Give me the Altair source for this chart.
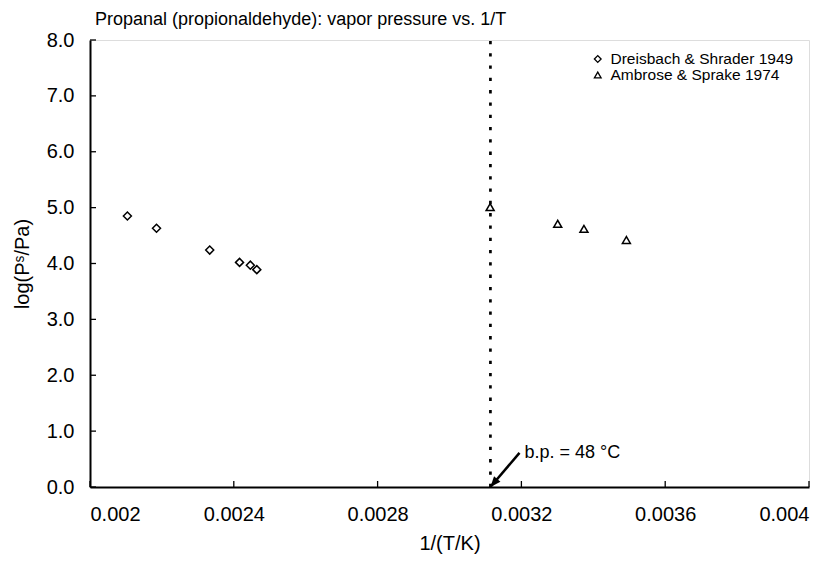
import altair as alt
import pandas as pd

# ---- data ----
series = ["Dreisbach & Shrader 1949", "Ambrose & Sprake 1974"]
ds_x = [0.002104, 0.002185, 0.002333, 0.002416, 0.002446, 0.002464]
ds_y = [4.85, 4.63, 4.24, 4.02, 3.97, 3.89]
as_x = [0.003113, 0.003301, 0.003374, 0.003492]
as_y = [5.01, 4.71, 4.62, 4.42]
bp_x = [1 / 321.15]          # boiling point 48 °C
bp_label = ["b.p. = 48 °C"]
arrow_start_x = [0.0031947]
arrow_start_y = [0.61]
x_ticks = [0.002, 0.0024, 0.0028, 0.0032, 0.0036, 0.004]
y_ticks = [0, 1, 2, 3, 4, 5, 6, 7, 8]
title_text = ["Propanal (propionaldehyde): vapor pressure vs. 1/T"]

FONT = "Liberation Sans"
W, H = 719, 447

df = pd.DataFrame({
    "x": ds_x + as_x,
    "y": ds_y + as_y,
    "series": [series[0]] * len(ds_x) + [series[1]] * len(as_x),
})

xs = alt.Scale(domain=[0.002, 0.004], nice=False, zero=False)
ys = alt.Scale(domain=[0, 8], nice=False, zero=False)

x_axis = alt.Axis(values=x_ticks, labelExpr="format(datum.value, '.4~f')", ticks=False, grid=False,
                  labelFontSize=20, labelPadding=17, title="1/(T/K)", titleFontSize=20,
                  titleFontWeight="normal", titlePadding=9, domainColor="black", domainWidth=2,
                  labelColor="black", titleColor="black", labelFont=FONT, titleFont=FONT)
y_axis = alt.Axis(values=y_ticks, format=".1f", ticks=False, grid=False,
                  labelFontSize=20, labelPadding=16, title="log(Pˢ/Pa)", titleFontSize=20,
                  titleFontWeight="normal", titlePadding=14, domainColor="black", domainWidth=2,
                  labelColor="black", titleColor="black", labelFont=FONT, titleFont=FONT)

points = alt.Chart(df).mark_point(filled=False, size=64, strokeWidth=1.5, color="black", opacity=1).encode(
    x=alt.X("x:Q", scale=xs, axis=x_axis),
    y=alt.Y("y:Q", scale=ys, axis=y_axis),
    shape=alt.Shape("series:N", scale=alt.Scale(domain=series, range=["diamond", "triangle-up"]),
                    legend=alt.Legend(title=None, orient="none", legendX=500, legendY=12,
                                      labelFontSize=15.5, labelFont=FONT, labelColor="black",
                                      labelLimit=0, clipHeight=14,
                                      symbolSize=45, symbolStrokeWidth=1.3, symbolStrokeColor="black",
                                      symbolFillColor="transparent", rowPadding=0, labelOffset=5,
                                      padding=0)),
)

bp_df = pd.DataFrame({"x": bp_x, "y0": [0], "y1": [8]})
bp_line = alt.Chart(bp_df).mark_rule(color="black", strokeWidth=2.7, strokeDash=[3.3, 9]).encode(
    x=alt.X("x:Q", scale=xs), y=alt.Y("y0:Q", scale=ys), y2="y1:Q")

arr_df = pd.DataFrame({"x0": arrow_start_x, "y0": arrow_start_y, "x1": bp_x, "y1": [0], "label": bp_label})
arrow_line = alt.Chart(arr_df).mark_rule(color="black", strokeWidth=2.5).encode(
    x=alt.X("x0:Q", scale=xs), y=alt.Y("y0:Q", scale=ys), x2="x1:Q", y2="y1:Q")
arrow_head = alt.Chart(arr_df).mark_point(shape="M0,0L-0.8,2L0.8,2Z", filled=True, color="black",
                                          size=110, angle=220.5, opacity=1).encode(
    x=alt.X("x1:Q", scale=xs), y=alt.Y("y1:Q", scale=ys))
arrow_text = alt.Chart(arr_df).mark_text(align="left", baseline="middle", dx=5, fontSize=18,
                                         font=FONT, color="black").encode(
    x=alt.X("x0:Q", scale=xs), y=alt.Y("y0:Q", scale=ys), text="label:N")

# chart title drawn above the plot frame
title_df = pd.DataFrame({"t": title_text})
title_mark = alt.Chart(title_df).mark_text(align="left", baseline="middle", fontSize=18, font=FONT,
                                           color="black").encode(
    x=alt.value(5), y=alt.value(-20), text="t:N")

# inward tick marks
yt_df = pd.DataFrame({"v": y_ticks})
xt_df = pd.DataFrame({"v": x_ticks})
y_tick_marks = alt.Chart(yt_df).mark_rule(color="black", strokeWidth=1.3).encode(
    y=alt.Y("v:Q", scale=ys), x=alt.value(0), x2=alt.value(6))
x_tick_marks = alt.Chart(xt_df).mark_rule(color="black", strokeWidth=1.3).encode(
    x=alt.X("v:Q", scale=xs), y=alt.value(H), y2=alt.value(H - 6))

chart = alt.layer(bp_line, arrow_line, arrow_head, arrow_text, y_tick_marks, x_tick_marks,
                  title_mark, points).properties(
    width=W, height=H,
    autosize=alt.AutoSizeParams(type="none"),
    padding={"left": 82, "top": 32, "right": 20, "bottom": 74},
).configure_view(stroke="black", strokeWidth=1).configure(background="white")

chart.save("out.html", embed_options={"renderer": "svg", "actions": False})
